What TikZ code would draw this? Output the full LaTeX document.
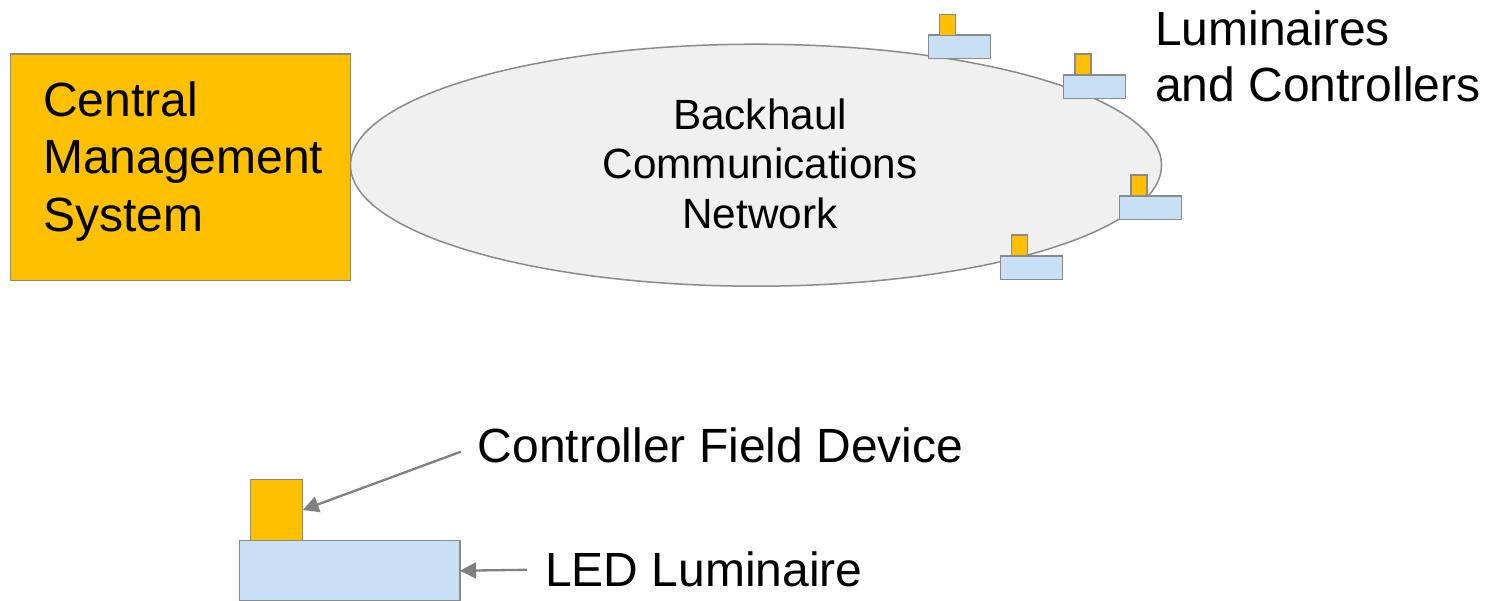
\documentclass[tikz,border=0pt]{standalone}
\usepackage{fontspec}
\setmainfont{Liberation Sans}
\usetikzlibrary{arrows.meta,shapes.geometric}
\definecolor{cmsorange}{HTML}{FFC000}
\definecolor{ledblue}{HTML}{C8E0F5}
\definecolor{netgray}{HTML}{F0F0F0}
\definecolor{edgegray}{HTML}{8A8A8A}
\definecolor{arrowgray}{HTML}{808080}
\tikzset{
  box/.style={draw=edgegray, line width=1.5pt, inner sep=0pt, outer sep=0pt, anchor=north west},
  ctlbox/.style={box, fill=cmsorange},
  lumbox/.style={box, fill=ledblue},
  smalllum/.style={lumbox, minimum width=62pt, minimum height=23.5pt},
  smallctl/.style={ctlbox, minimum width=16pt, minimum height=21pt},
  bigtext/.style={inner sep=0pt, font=\fontsize{48}{57.8}\selectfont},
  pointer/.style={draw=arrowgray, line width=2.3pt, shorten <=18pt,
    -{Triangle[length=16pt,width=16pt]}},
}
\begin{document}
\begin{tikzpicture}[x=1pt, y=-1pt]
\useasboundingbox (0,0) rectangle (1491,600);

% central management system
\node[ctlbox, minimum width=340pt, minimum height=226.5pt] (cms) at (10.5,54) {};
\node[bigtext, align=left, anchor=base west] (cmstext) at (43,231.7)
  {Central\\Management\\System};

% backhaul network
\node[draw=edgegray, line width=1.5pt, fill=netgray, ellipse,
      minimum width=811pt, minimum height=242pt, inner sep=0pt] (net) at (756,165.2) {};
\node[inner sep=0pt, align=center, anchor=base,
      font=\fontsize{42.3}{49.5}\selectfont] (nettext) at (760,228.3)
  {Backhaul\\Communications\\Network};

% luminaires with controllers around the network
\node[smalllum] (lumA) at (928.3,35) {};
\node[smallctl] (ctlA) at (939.3,14.3) {};
\node[smalllum] (lumB) at (1063.7,75) {};
\node[smallctl] (ctlB) at (1075,54) {};
\node[smalllum] (lumC) at (1119.3,196) {};
\node[smallctl] (ctlC) at (1131,175) {};
\node[smalllum] (lumD) at (1000.7,256) {};
\node[smallctl] (ctlD) at (1011.7,235) {};

\node[bigtext, align=left, anchor=base west,
      font=\fontsize{48}{56}\selectfont] (lumtext) at (1155,101.7)
  {Luminaires\\and Controllers};

% legend: one luminaire with its controller
\node[lumbox, minimum width=220.7pt, minimum height=60pt] (biglum) at (239.3,540.7) {};
\node[ctlbox, minimum width=52pt, minimum height=61.4pt] (bigctl) at (250.7,479.3) {};

\node[bigtext, anchor=base west] (ctllabel) at (477.6,462.7) {Controller Field Device};
\node[bigtext, anchor=base west] (lumlabel) at (545,586.7) {LED Luminaire};

\draw[pointer] (ctllabel.west) -- (bigctl.east);
\draw[pointer] (lumlabel.west) -- (biglum.east);
\end{tikzpicture}
\end{document}
